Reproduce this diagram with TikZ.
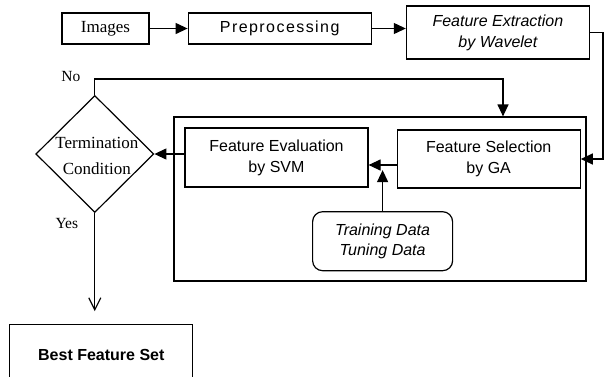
\documentclass[tikz,border=0pt]{standalone}
\usepackage{fontspec}
\setmainfont{Liberation Serif}
\setsansfont{Liberation Sans}
\newfontfamily\widesans[LetterSpace=9]{Liberation Sans}
\usetikzlibrary{shapes.geometric, arrows.meta, positioning, calc}

\begin{document}
\begin{tikzpicture}[
    x=1pt, y=1pt, line width=1.2pt,
    every node/.style={inner sep=0pt, align=center},
    serifbox/.style={rectangle, draw, minimum height=31pt, font=\fontsize{17}{21}\selectfont},
    process/.style={rectangle, draw, minimum width=183pt, font=\sffamily\fontsize{16}{21}\selectfont},
    databox/.style={rectangle, draw, rounded corners=10pt, minimum width=140pt, minimum height=59pt, font=\sffamily\itshape\fontsize{16}{20}\selectfont},
    decision/.style={diamond, draw, minimum width=118pt, minimum height=117pt},
    lbl/.style={font=\fontsize{15.5}{18}\selectfont},
    arrow/.style={-{Triangle[length=12pt,width=11pt]}},
    openarrow/.style={-{Straight Barb[length=12pt,width=12pt]}}
]
\clip (0,0) rectangle (611,-376);

% Nodes
\node[serifbox, minimum width=87pt] (images) at (105.5,-28.5) {Images};
\node[process, minimum height=31pt, right=38pt of images, font=\widesans\fontsize{16}{21}\selectfont] (prep) {Preprocessing};
\node[process, minimum height=53pt, right=34pt of prep, yshift=-4pt, font=\sffamily\itshape\fontsize{16}{21}\selectfont] (extract) {Feature Extraction\\by Wavelet};
\node[draw, minimum width=412pt, minimum height=164pt] (loopbox) at (380,-199) {};
\node[process, minimum height=59pt, below right=11pt and 11pt of loopbox.north west] (eval) {Feature Evaluation\\by SVM};
\node[process, minimum height=58pt, right=28pt of eval, yshift=-1.5pt] (select) {Feature Selection\\by GA};
\coordinate (trainref) at ($(eval.south)!.5!(select.south)$);
\node[databox, below=23pt of trainref] (train) {Training Data\\Tuning Data};
\node[decision, left=30pt of eval, yshift=3.5pt] (term) {};
\node[font=\fontsize{17}{26}\selectfont] (termtext) at ([xshift=2pt,yshift=-2pt]term.center) {Termination\\Condition};
\node[process, minimum height=60pt, below=111pt of term, xshift=6.5pt, font=\sffamily\bfseries\fontsize{16}{21}\selectfont] (best) {Best Feature Set};
\node[lbl] (nolbl) at ($(term.north)+(-24,18)$) {No};
\node[lbl] (yeslbl) at ($(term.south)+(-28,-10)$) {Yes};

% Connectors
\draw[arrow] (images.east) -- (prep.west);
\draw[arrow] (prep.east) -- (prep.east -| extract.west);
\draw[arrow] (extract.east) -- ++(13,0) |- (select.east);
\draw[arrow] ([yshift=-6pt]select.west) -- ([yshift=-6pt]select.west -| eval.east);
\draw[arrow] (train.north) -- ++(0,41);
\draw[arrow] (term.east -| eval.west) -- (term.east);
\draw[arrow] (term.north) -- ++(0,16) -| ([xshift=123pt]loopbox.north);
\draw[openarrow] (term.south) -- ++(0,-98);

\end{tikzpicture}
\end{document}
